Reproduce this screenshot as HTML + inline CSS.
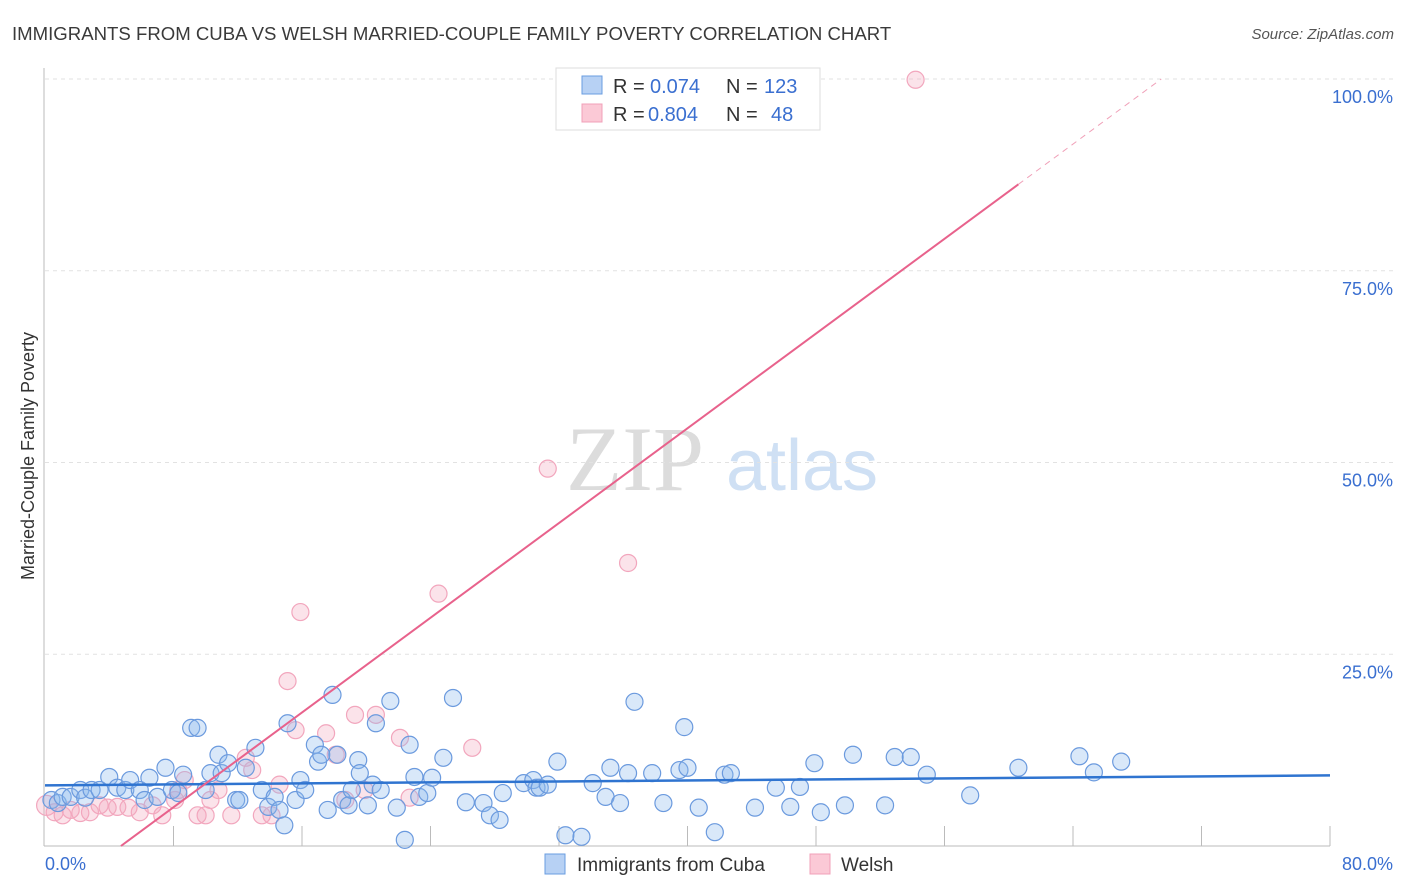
<!DOCTYPE html>
<html><head><meta charset="utf-8"><style>
body{margin:0;background:#fff;font-family:"Liberation Sans",sans-serif}
svg{display:block}
</style></head><body>
<svg id="chart" width="1406" height="892" viewBox="0 0 1406 892" xmlns="http://www.w3.org/2000/svg" font-family="Liberation Sans, sans-serif">
<text x="12" y="40" font-size="18.6" fill="#3a3a3a">IMMIGRANTS FROM CUBA VS WELSH MARRIED-COUPLE FAMILY POVERTY CORRELATION CHART</text>
<text x="1394" y="39" font-size="15" fill="#555" font-style="italic" text-anchor="end">Source: ZipAtlas.com</text>
<g>
<text x="635" y="490" font-size="92" fill="#dcdcdc" font-family="Liberation Serif, serif" text-anchor="middle">ZIP</text>
<text x="802" y="490" font-size="72" fill="#cfe0f4" text-anchor="middle">atlas</text>
</g>
<g id="grid"></g>
<g id="axes"></g>
<g id="pts"></g>
<g id="lines"></g>
<text transform="translate(34,456) rotate(-90)" font-size="18" fill="#333" text-anchor="middle">Married-Couple Family Poverty</text>
<g>
<rect x="556" y="68" width="264" height="62" fill="#fff" stroke="#ddd"/>
<rect x="582" y="76" width="20" height="18" fill="#b7d1f4" stroke="#6a9de0"/>
<rect x="582" y="104" width="20" height="18" fill="#fbc9d6" stroke="#f0a0b8"/>
<text x="613" y="93" font-size="20" fill="#333">R =</text>
<text x="650" y="93" font-size="20" fill="#3a6fd0">0.074</text>
<text x="726" y="93" font-size="20" fill="#333">N =</text>
<text x="764" y="93" font-size="20" fill="#3a6fd0">123</text>
<text x="613" y="121" font-size="20" fill="#333">R =</text>
<text x="648" y="121" font-size="20" fill="#3a6fd0">0.804</text>
<text x="726" y="121" font-size="20" fill="#333">N =</text>
<text x="771" y="121" font-size="20" fill="#3a6fd0">48</text>
</g>
<g>
<g><rect x="545" y="854" width="20" height="20" fill="#b7d1f4" stroke="#6a9de0"/><text x="577" y="871" font-size="19" fill="#333">Immigrants from Cuba</text></g>
<g><rect x="810" y="854" width="20" height="20" fill="#fbc9d6" stroke="#f0a0b8"/><text x="841" y="871" font-size="19" fill="#333">Welsh</text></g>
</g>
</svg>
<script>
const cubaX=[0.4,0.8,1.1,1.6,2.2,2.5,2.9,3.4,4.0,4.5,5.0,5.3,5.9,6.2,6.5,7.0,7.5,7.9,8.3,8.6,9.1,9.5,10.0,10.3,10.8,11.0,11.4,11.9,12.1,12.5,13.1,13.5,13.9,14.3,14.6,14.9,15.1,15.6,15.9,16.2,16.8,17.0,17.2,17.6,17.9,18.2,18.5,18.9,19.1,19.5,19.6,20.1,20.4,20.6,20.9,21.5,21.9,22.7,23.0,23.3,23.8,24.1,24.8,22.4,25.4,26.2,27.3,27.7,28.3,28.5,29.8,30.4,30.6,30.8,31.3,31.9,32.4,33.4,34.1,34.9,35.2,35.8,36.3,36.7,37.8,38.5,39.5,39.8,40.0,40.7,41.7,42.3,42.7,44.2,45.5,46.4,47.0,47.9,48.3,49.8,50.3,52.3,52.9,53.9,54.9,57.6,60.6,64.4,65.3,67.0];
const cubaY=[6.0,5.6,6.4,6.4,7.3,6.3,7.3,7.3,9.0,7.6,7.3,8.6,7.3,6.0,8.9,6.4,10.2,7.3,6.9,9.3,15.4,15.4,7.3,9.5,11.9,9.5,10.8,6.0,6.0,10.2,12.8,7.3,5.1,6.4,4.7,2.7,16.0,6.0,8.6,7.3,13.2,11.0,11.9,4.7,19.7,11.9,6.0,5.3,7.3,11.2,9.5,5.3,8.0,16.0,7.3,18.9,5.0,13.2,9.0,6.4,6.9,8.9,11.5,0.8,19.3,5.7,5.6,4.0,3.4,6.9,8.2,8.6,7.6,7.6,8.0,11.0,1.4,1.2,8.2,6.4,10.2,5.6,9.5,18.8,9.5,5.6,9.9,15.5,10.2,5.0,1.8,9.3,9.5,5.0,7.6,5.1,7.7,10.8,4.4,5.3,11.9,5.3,11.6,11.6,9.3,6.6,10.2,11.7,9.6,11.0];
const welshX=[0.1,0.6,1.1,1.6,2.2,2.8,3.4,3.9,4.5,5.2,5.9,6.7,7.3,8.1,8.3,8.7,9.5,10.0,10.3,10.8,11.6,12.5,12.9,13.5,14.1,14.6,15.1,15.6,15.9,17.5,18.1,18.7,19.3,19.9,20.6,22.1,22.7,24.5,26.6,31.3,36.3,54.2,33.3];
const welshY=[5.3,4.4,4.0,4.7,4.3,4.4,5.3,5.0,5.1,5.0,4.4,5.3,4.0,6.0,7.3,8.6,4.0,4.0,6.0,7.3,4.0,11.5,9.9,4.0,4.0,8.0,21.5,15.1,30.5,14.7,11.9,6.0,17.1,7.3,17.1,14.1,6.3,32.9,12.8,49.2,36.9,99.9,100];
const cubaTrend=[7.9,9.2];
const welshTrend=[-7.3,1.544];
const yTicks=[25,50,75,100];
const xTickLabels=["0.0%","80.0%"];
const NS="http://www.w3.org/2000/svg";
const X0=45,X1=1330,Y0=846,Y1=79;
const sx=v=>X0+(v/80)*(X1-X0);
const sy=v=>Y0-(v/100)*(Y0-Y1);
function mk(tag,attrs,parent){const e=document.createElementNS(NS,tag);for(const k in attrs)e.setAttribute(k,attrs[k]);parent.appendChild(e);return e;}
const grid=document.getElementById('grid'),axes=document.getElementById('axes');
yTicks.forEach(t=>{
 const l=mk('line',{x1:X0,x2:1394,y1:sy(t),y2:sy(t),stroke:'#e2e2e2','stroke-dasharray':'4,4'},grid);
 
 
 const tx=mk('text',{x:1393,y:sy(t)+24,'font-size':18,fill:'#3a6fd0','text-anchor':'end'},axes);
 tx.textContent=t.toFixed(1)+'%';
 
 
});
const ya=mk('line',{x1:X0-1,x2:X0-1,y1:68,y2:Y0,stroke:'#bbb'},axes);


const xa=mk('line',{x1:X0-1,x2:X1,y1:Y0,y2:Y0,stroke:'#bbb'},axes);


for(let i=1;i<=10;i++){
 const t=mk('line',{x1:sx(i*8),x2:sx(i*8),y1:Y0-20,y2:Y0,stroke:'#bbb'},axes);
 
 
}
const xl0=mk('text',{x:45,y:870,'font-size':18,fill:'#3a6fd0'},axes);xl0.textContent=xTickLabels[0];


const xl1=mk('text',{x:1393,y:870,'font-size':18,fill:'#3a6fd0','text-anchor':'end'},axes);xl1.textContent=xTickLabels[1];


const pts=document.getElementById('pts');
welshX.forEach((x,i)=>{
 const c=mk('circle',{cx:sx(x),cy:sy(welshY[i]),r:i===0?10:8.5,fill:'rgba(244,170,192,0.33)',stroke:'#f2a6bd','stroke-width':1.2},pts);
 
 
});
cubaX.forEach((x,i)=>{
 const c=mk('circle',{cx:sx(x),cy:sy(cubaY[i]),r:8.5,fill:'rgba(140,185,238,0.33)',stroke:'#6b9ade','stroke-width':1.2},pts);
 
 
});
const lines=document.getElementById('lines');
const bl=mk('line',{x1:sx(0),y1:sy(cubaTrend[0]),x2:sx(80),y2:sy(cubaTrend[1]),stroke:'#2f74d0','stroke-width':2.5},lines);


const wy=x=>welshTrend[0]+welshTrend[1]*x;
const xs=-welshTrend[0]/welshTrend[1], xm=60.6, xe=(100-welshTrend[0])/welshTrend[1];
const pl=mk('line',{x1:sx(xs),y1:sy(wy(xs)),x2:sx(xm),y2:sy(wy(xm)),stroke:'#e8628c','stroke-width':2},lines);


const pd=mk('line',{x1:sx(xm),y1:sy(wy(xm)),x2:sx(xe),y2:sy(wy(xe)),stroke:'#f0a0b8','stroke-width':1,'stroke-dasharray':'6,5'},lines);


</script>
</body></html>
